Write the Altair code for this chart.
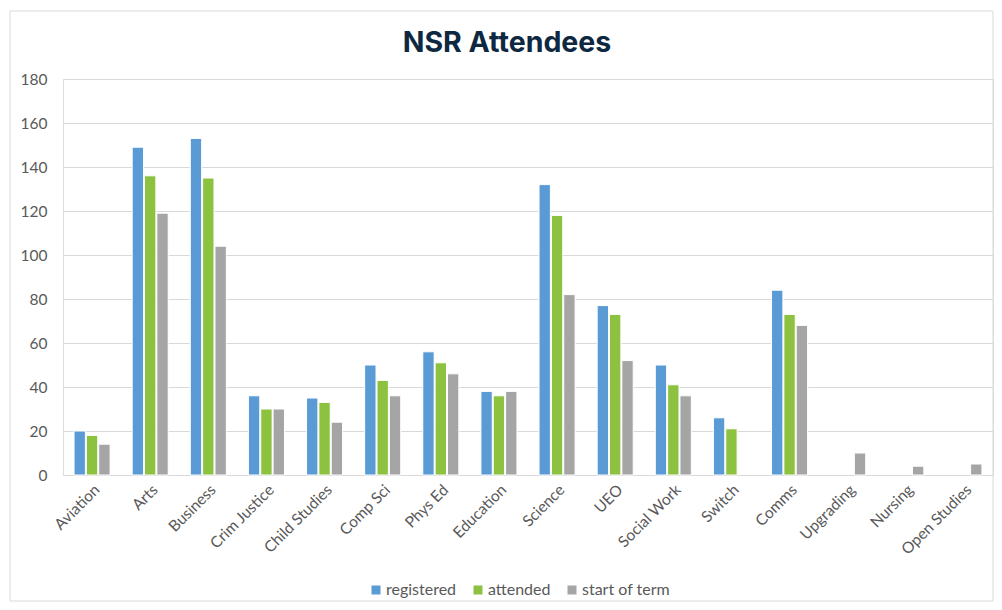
import altair as alt
import pandas as pd

categories = ["Aviation", "Arts", "Business", "Crim Justice", "Child Studies", "Comp Sci",
              "Phys Ed", "Education", "Science", "UEO", "Social Work", "Switch", "Comms",
              "Upgrading", "Nursing", "Open Studies"]
registered = [20, 149, 153, 36, 35, 50, 56, 38, 132, 77, 50, 26, 84, None, None, None]
attended = [18, 136, 135, 30, 33, 43, 51, 36, 118, 73, 41, 21, 73, None, None, None]
start_of_term = [14, 119, 104, 30, 24, 36, 46, 38, 82, 52, 36, None, 68, 10, 4, 5]
series = ["registered", "attended", "start of term"]
colors = ["#5b9bd5", "#8cc23f", "#a5a5a5"]
title_text = "NSR Attendees"

rows = []
for s, vals in zip(series, [registered, attended, start_of_term]):
    for c, v in zip(categories, vals):
        if v is not None:
            rows.append({"category": c, "series": s, "value": v})
df = pd.DataFrame(rows)

FONT = "Lato"
LABEL = "#595959"

bars = alt.Chart(df).mark_bar(stroke="white", strokeWidth=1).encode(
    x=alt.X("category:N", sort=categories, title=None,
            scale=alt.Scale(paddingInner=0.38, paddingOuter=0.19),
            axis=alt.Axis(labelAngle=-45, labelFontSize=15.5, labelColor=LABEL, labelFont=FONT,
                          ticks=False, domainColor="#d9d9d9", labelPadding=7, grid=False)),
    xOffset=alt.XOffset("series:N", sort=series, scale=alt.Scale(paddingInner=0.08)),
    y=alt.Y("value:Q", title=None,
            scale=alt.Scale(domain=[0, 180]),
            axis=alt.Axis(values=list(range(0, 181, 20)), labelFontSize=15.5, labelColor=LABEL,
                          labelFont=FONT, ticks=False, domain=False, gridColor="#d9d9d9",
                          labelPadding=16)),
    color=alt.Color("series:N", sort=series, scale=alt.Scale(domain=series, range=colors),
                    legend=alt.Legend(title=None, orient="none", direction="horizontal",
                                      legendX=305, legendY=503, symbolType="square",
                                      symbolSize=81, symbolStrokeWidth=0, symbolOpacity=1,
                                      labelFontSize=16, labelColor=LABEL, labelFont=FONT,
                                      columnPadding=13, labelOffset=2)),
)

frame = alt.Chart(pd.DataFrame({"a": [0]})).mark_rect(
    fill=None, stroke="#d9d9d9", strokeWidth=1).encode(
    x=alt.value(-53), x2=alt.value(930), y=alt.value(-68), y2=alt.value(522))

title = alt.Chart(pd.DataFrame({"t": [title_text]})).mark_text(
    font="Inter", fontSize=28.5, fontWeight="bold", color="#0e2841",
    align="center", baseline="alphabetic").encode(
    text="t:N", x=alt.value(444), y=alt.value(-27))

chart = alt.layer(frame, title, bars).properties(
    width=930, height=396,
    autosize=alt.AutoSizeParams(type="none"),
    padding={"left": 55, "top": 71, "right": 1, "bottom": 127},
).configure_view(stroke=None).configure(background="white")

chart.save("out.html", embed_options={"renderer": "svg", "actions": False})
